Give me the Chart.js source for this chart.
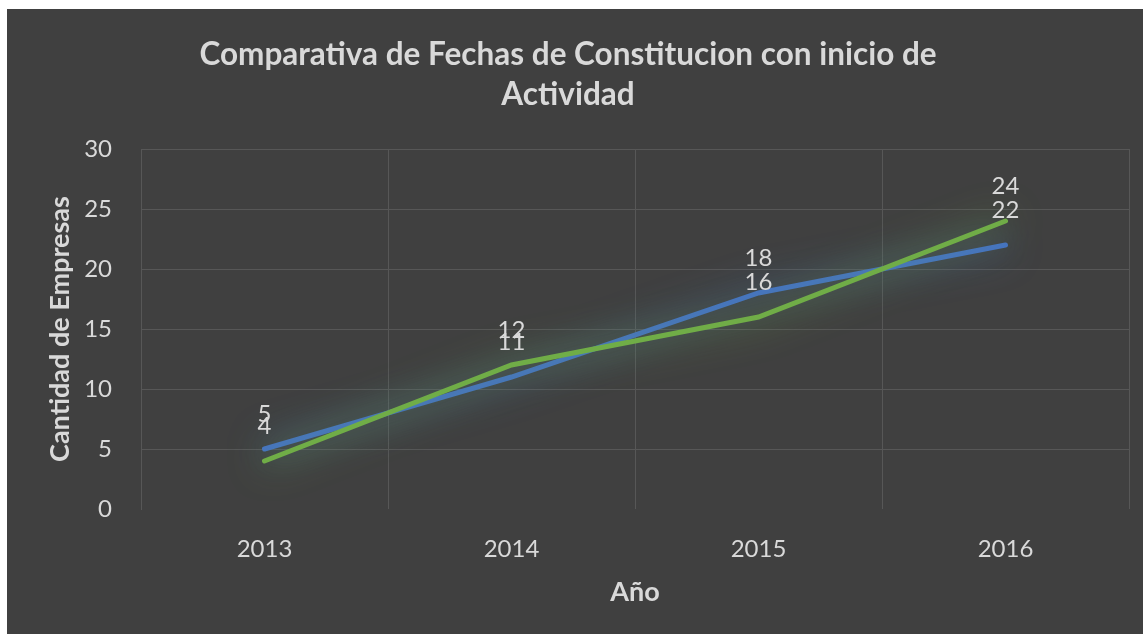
<!DOCTYPE html>
<html>
<head>
<meta charset="utf-8">
<script src="https://cdn.jsdelivr.net/npm/chart.js@4/dist/chart.umd.min.js"></script>
<style>
  html, body { margin: 0; padding: 0; background: #ffffff; }
  .chart-box {
    position: absolute;
    left: 7px;
    top: 9px;
    width: 1136px;
    height: 625px;
    background: #404040;
  }
</style>
</head>
<body>
<div class="chart-box">
  <canvas id="chart" width="1136" height="625"></canvas>
</div>
<script>
const years = ['2013', '2014', '2015', '2016'];
const constitucion = [5, 11, 18, 22];
const inicioActividad = [4, 12, 16, 24];
const seriesNames = ['Fecha de Constitucion', 'Inicio de Actividad'];
const yTicks = [0, 5, 10, 15, 20, 25, 30];

const TEXT_COLOR = '#d9d9d9';
const GRID_COLOR = '#575757';
const BLUE = '#4472c4';
const GREEN = '#70ad47';
const FONT = 'Lato, "Open Sans", sans-serif';

// soft glow under each line, like the office "glow" effect
var glowPlugin = {
  id: 'glow',
  beforeDatasetDraw: function (chart, args) {
    var ds = chart.data.datasets[args.index];
    var ctx = chart.ctx;
    ctx.save();
    ctx.shadowColor = ds.glowColor;
    ctx.shadowBlur = 36;
  },
  afterDatasetDraw: function (chart) {
    chart.ctx.restore();
  }
};

// value labels above every point
var valueLabels = {
  id: 'valueLabels',
  afterDatasetsDraw: function (chart) {
    var ctx = chart.ctx;
    ctx.save();
    ctx.font = '24px ' + FONT;
    ctx.fillStyle = TEXT_COLOR;
    ctx.textAlign = 'center';
    ctx.textBaseline = 'middle';
    chart.data.datasets.forEach(function (ds, i) {
      var meta = chart.getDatasetMeta(i);
      meta.data.forEach(function (pt, j) {
        ctx.fillText(String(ds.data[j]), pt.x, pt.y - 35);
      });
    });
    ctx.restore();
  }
};

function setupChart() {
  var canvas = document.getElementById('chart').getContext('2d');

  return new Chart(canvas, {
    type: 'line',
    data: {
      labels: years,
      datasets: [{
        label: seriesNames[1],
        data: inicioActividad,
        borderColor: GREEN,
        glowColor: 'rgba(112, 173, 71, 1)',
        borderWidth: 5,
        pointRadius: 0,
        tension: 0,
        borderCapStyle: 'round'
      }, {
        label: seriesNames[0],
        data: constitucion,
        borderColor: BLUE,
        glowColor: 'rgba(68, 114, 196, 1)',
        borderWidth: 5,
        pointRadius: 0,
        tension: 0,
        borderCapStyle: 'round'
      }]
    },
    options: {
      responsive: false,
      animation: false,
      devicePixelRatio: 1,
      layout: {
        padding: { left: 0, right: 14, top: 0, bottom: 0 }
      },
      plugins: {
        legend: { display: false },
        tooltip: { enabled: false },
        title: {
          display: true,
          text: ['Comparativa de Fechas de Constitucion con inicio de', 'Actividad'],
          color: TEXT_COLOR,
          font: { family: FONT, size: 31.5, weight: 'bold', lineHeight: 1.27 },
          padding: { top: 26, bottom: 34 }
        }
      },
      scales: {
        x: {
          offset: true,
          grid: {
            offset: true,
            color: GRID_COLOR,
            drawTicks: false
          },
          border: { display: false },
          ticks: {
            color: TEXT_COLOR,
            font: { family: FONT, size: 24 },
            padding: 26
          },
          title: {
            display: true,
            text: 'Año',
            color: TEXT_COLOR,
            font: { family: FONT, size: 27, weight: 'bold' },
            padding: { top: 0, bottom: 26 }
          },
          afterFit: function (scale) {
            scale.height = 125;
          }
        },
        y: {
          min: 0,
          max: 30,
          afterBuildTicks: function (scale) {
            scale.ticks = yTicks.map(function (v) { return { value: v }; });
          },
          grid: {
            color: function (c) {
              return c.tick && c.tick.value === 0 ? 'rgba(0,0,0,0)' : GRID_COLOR;
            },
            drawTicks: false
          },
          border: { display: true, color: GRID_COLOR },
          ticks: {
            color: TEXT_COLOR,
            font: { family: FONT, size: 24 },
            padding: 29
          },
          title: {
            display: true,
            text: 'Cantidad de Empresas',
            color: TEXT_COLOR,
            font: { family: FONT, size: 27, weight: 'bold' },
            padding: { top: 37, bottom: 0 }
          },
          afterFit: function (scale) {
            scale.width = 134;
          }
        }
      }
    },
    plugins: [glowPlugin, valueLabels]
  });
}

setupChart();
</script>
</body>
</html>
